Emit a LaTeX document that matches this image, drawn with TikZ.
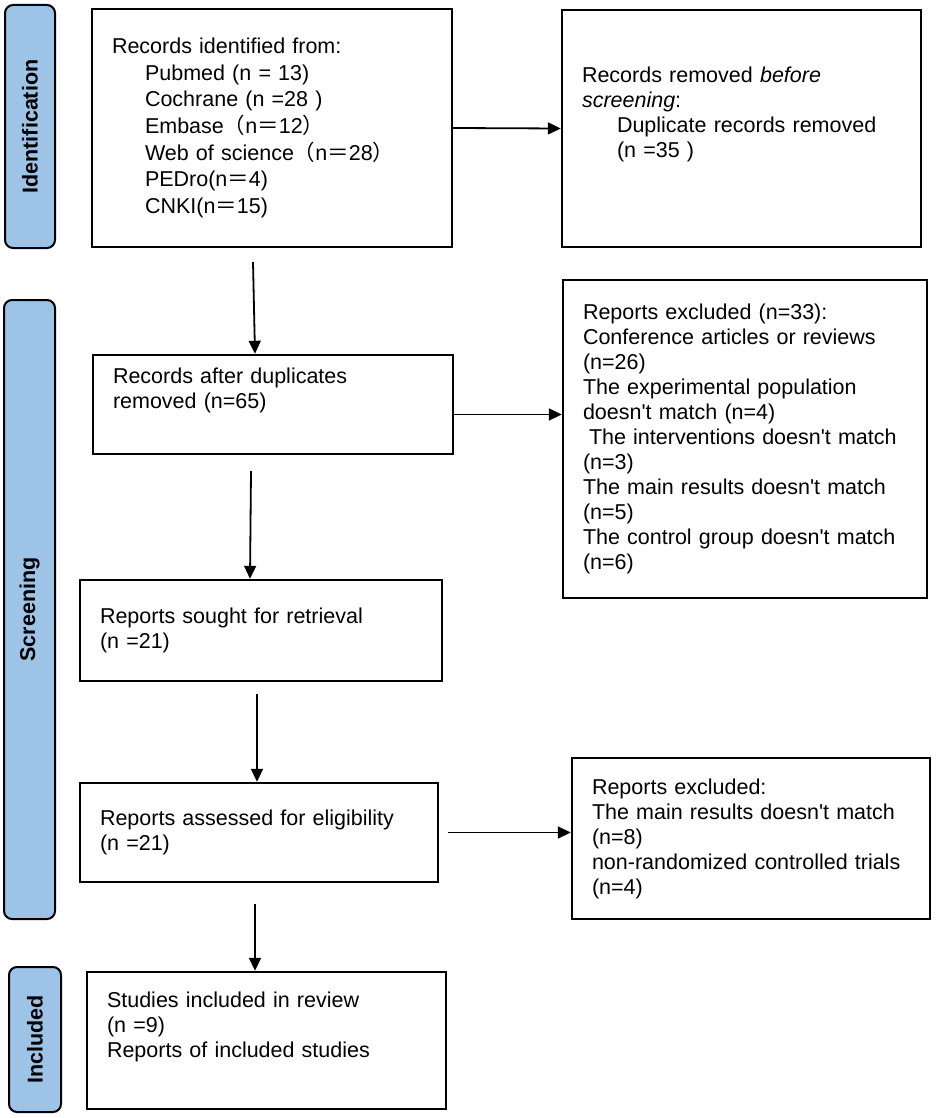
\documentclass[tikz,border=0pt]{standalone}
\usepackage{fontspec}
\setmainfont{Liberation Sans}
\newfontfamily\cjk{Noto Sans CJK SC}
\usetikzlibrary{arrows.meta}
\definecolor{barblue}{HTML}{9DC3E6}
\newcommand\apos{\XeTeXglyph\XeTeXcharglyph"0027\relax}
\newcommand\fl[1]{{\cjk #1}}
\begin{document}
\begin{tikzpicture}[x=1pt,y=-1pt,
  box/.style={draw, line width=2.4pt, inner xsep=20pt, inner ysep=0pt, align=left,
    font=\fontsize{21.5}{25}\selectfont},
  bar/.style={draw, line width=2pt, fill=barblue, rounded corners=8pt, inner sep=0pt,
    rotate=90, font=\bfseries\fontsize{21.5}{25}\selectfont},
  arr/.style={line width=1.8pt, -{Triangle[length=13pt,width=12pt]}}]
\useasboundingbox (0,0) rectangle (935,1118);

% phase bars
\node[bar, minimum width=243pt, minimum height=50pt] (idbar) at (30,126.5) {Identification};
\node[bar, minimum width=619pt, minimum height=51pt] (scbar) at (29.5,609.5) {Screening};
\node[bar, minimum width=145pt, minimum height=52pt] (inbar) at (35,1039.5) {Included};

% boxes
\node[box, text width=320pt, minimum height=238pt, font=\fontsize{21.5}{26.7}\selectfont] (b1) at (272,128) {%
Records identified from:\\
\hspace*{33pt}Pubmed (n = 13)\\
\hspace*{33pt}Cochrane (n =28 )\\
\hspace*{33pt}Embase\fl{（}n\fl{＝}12\fl{）}\\
\hspace*{33pt}Web of science\fl{（}n\fl{＝}28\fl{）}\\
\hspace*{33pt}PEDro(n\fl{＝}4)\\
\hspace*{33pt}CNKI(n\fl{＝}15)};

\node[box, text width=319pt, minimum height=237pt] (b2) at (741.5,128.5) {%
Records removed \textit{before}\\
\textit{screening}:\\
\hspace*{35pt}Duplicate records removed\\
\hspace*{35pt}(n =35 )\\
\strut};

\node[box, text width=320pt, minimum height=99pt] (b3) at (273,404.5) {%
Records after duplicates\\
removed (n=65)\\
\strut};

\node[box, text width=324pt, minimum height=318pt] (b4) at (745,439) {%
Reports excluded (n=33):\\
Conference articles or reviews\\
(n=26)\\
The experimental population\\
doesn\apos t match (n=4)\\
\hspace*{6pt}The interventions doesn\apos t match\\
(n=3)\\
The main results doesn\apos t match\\
(n=5)\\
The control group doesn\apos t match\\
(n=6)};

\node[box, text width=322pt, inner xsep=20pt, minimum height=101pt] (b5) at (261,630.5) {%
Reports sought for retrieval\\
(n =21)};

\node[box, text width=318pt, minimum height=99pt] (b6) at (259,832.5) {%
Reports assessed for eligibility\\
(n =21)};

\node[box, text width=318pt, minimum height=161pt] (b7) at (751,838.5) {%
Reports excluded:\\
The main results doesn\apos t match\\
(n=8)\\
non-randomized controlled trials\\
(n=4)};

\node[box, text width=319pt, minimum height=137pt] (b8) at (266.5,1040.5) {%
Studies included in review\\
(n =9)\\
Reports of included studies\\
\strut};

% connectors
\draw[arr] (b1.east) -- (b2.west);
\draw[arr] ([xshift=-19pt,yshift=-14pt]b1.south) -- ([xshift=-18pt]b3.north);
\draw[arr] ([yshift=-10pt]b3.east) -- ([yshift=-10pt]b3.east -| b4.west);
\draw[arr] ([xshift=-22pt,yshift=-16pt]b3.south) -- ([xshift=-11pt]b5.north);
\draw[arr] ([xshift=-4pt,yshift=-12pt]b5.south) -- ([xshift=-2pt]b6.north);
\draw[arr] ([xshift=9pt]b6.east) -- (b6.east -| b7.west);
\draw[arr] ([xshift=-4pt,yshift=-21pt]b6.south) -- ([xshift=-11.5pt]b8.north);
\end{tikzpicture}
\end{document}
